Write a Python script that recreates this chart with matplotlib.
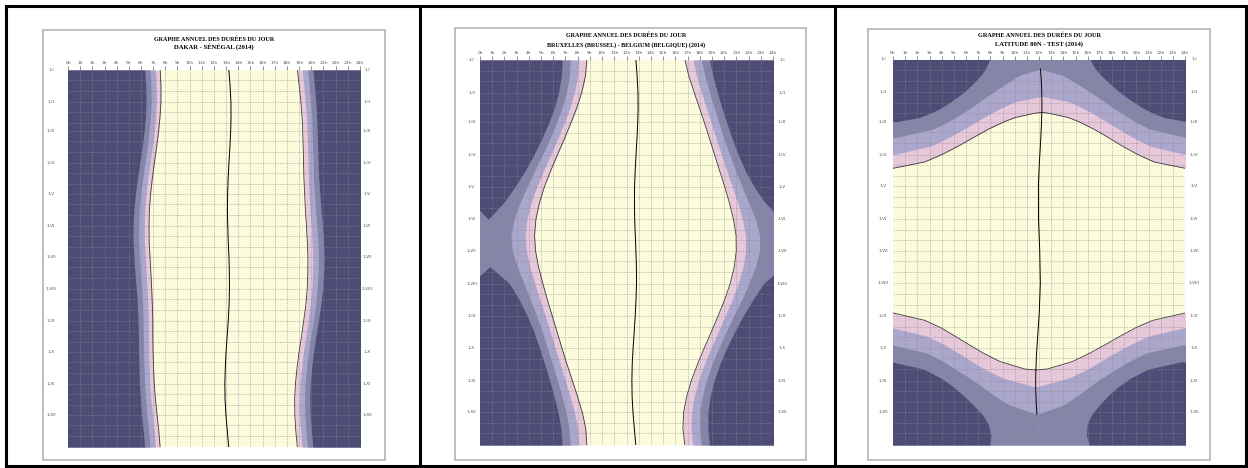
import numpy as np
import matplotlib.pyplot as plt
from matplotlib.lines import Line2D
from matplotlib.patches import Rectangle
from matplotlib.transforms import blended_transform_factory

# ---- data (hours, day of year 0 = 1 January 2014) ----
days = [0, 15, 31, 46, 59, 74, 90, 105, 120, 135, 151, 166, 181, 196,
        212, 227, 243, 258, 273, 288, 304, 319, 334, 349, 365]

# Dakar: solar noon and half-widths of day / civil / nautical / astronomical
dakar_noon = [13.22, 13.32, 13.39, 13.40, 13.37, 13.31, 13.23, 13.16, 13.12, 13.10, 13.13, 13.17, 13.23,
              13.26, 13.27, 13.24, 13.17, 13.08, 12.99, 12.93, 12.89, 12.91, 12.98, 13.09, 13.21]
dakar_sun = [5.64, 5.68, 5.75, 5.84, 5.92, 6.02, 6.13, 6.23, 6.33, 6.41, 6.47, 6.50, 6.49,
             6.45, 6.39, 6.31, 6.20, 6.11, 6.00, 5.90, 5.80, 5.72, 5.66, 5.63, 5.64]
dakar_civil = [6.02, 6.06, 6.12, 6.20, 6.28, 6.38, 6.49, 6.60, 6.70, 6.79, 6.86, 6.89, 6.88,
               6.84, 6.77, 6.68, 6.57, 6.46, 6.36, 6.26, 6.17, 6.10, 6.04, 6.02, 6.02]
dakar_naut = [6.47, 6.50, 6.55, 6.62, 6.70, 6.79, 6.91, 7.02, 7.14, 7.24, 7.32, 7.36, 7.35,
              7.30, 7.21, 7.11, 6.99, 6.88, 6.77, 6.68, 6.59, 6.53, 6.49, 6.46, 6.47]
dakar_astro = [6.91, 6.93, 6.98, 7.04, 7.11, 7.21, 7.33, 7.45, 7.58, 7.69, 7.79, 7.83, 7.82,
               7.76, 7.66, 7.54, 7.41, 7.29, 7.19, 7.10, 7.02, 6.96, 6.92, 6.91, 6.91]

# Bruxelles
brux_noon = [12.77, 12.87, 12.94, 12.95, 12.92, 12.86, 12.78, 12.71, 12.66, 12.65, 12.67, 12.72, 12.77,
             12.81, 12.82, 12.78, 12.71, 12.63, 12.54, 12.47, 12.44, 12.46, 12.53, 12.64, 12.76]
brux_sun = [4.02, 4.23, 4.61, 5.04, 5.45, 5.92, 6.44, 6.92, 7.38, 7.77, 8.09, 8.25, 8.22,
            8.02, 7.67, 7.27, 6.78, 6.31, 5.83, 5.36, 4.87, 4.47, 4.15, 3.98, 4.01]
brux_civil = [4.67, 4.86, 5.21, 5.61, 6.00, 6.47, 7.00, 7.50, 8.00, 8.45, 8.83, 9.02, 8.98,
              8.74, 8.33, 7.88, 7.35, 6.86, 6.38, 5.91, 5.45, 5.08, 4.79, 4.64, 4.66]
brux_naut = [5.37, 5.55, 5.87, 6.25, 6.63, 7.11, 7.67, 8.22, 8.80, 9.36, 9.89, 10.18, 10.12,
             9.75, 9.21, 8.66, 8.05, 7.52, 7.02, 6.55, 6.09, 5.75, 5.48, 5.35, 5.37]
brux_astro = [6.04, 6.20, 6.51, 6.88, 7.27, 7.77, 8.38, 9.02, 9.78, 10.68, 12, 12, 12,
              12, 10.40, 9.58, 8.82, 8.21, 7.67, 7.18, 6.73, 6.39, 6.14, 6.02, 6.03]

# Latitude 80N (more dates, the curves bend sharply)
days80 = [0, 9, 15, 23, 31, 35, 40, 46, 50, 51, 55, 59, 66, 74, 82, 90, 97, 103, 120, 151,
          181, 212, 240, 247, 254, 262, 270, 278, 286, 293, 294, 302, 310, 319, 327, 336, 345, 356, 365]
lat80_noon = [12.06, 12.12, 12.16, 12.20, 12.23, 12.23, 12.24, 12.24, 12.23, 12.23, 12.22, 12.21, 12.18,
              12.15, 12.11, 12.07, 12.03, 12.01, 11.95, 11.96, 12.06, 12.11, 12.02, 11.98, 11.94, 11.89,
              11.85, 11.80, 11.77, 11.75, 11.74, 11.73, 11.73, 11.75, 11.78, 11.83, 11.89, 11.98, 12.05]
lat80_sun = [0, 0, 0, 0, 0, 0, 0, 0, 0, 0.63, 2.20, 3.08, 4.34, 5.56, 6.74, 8.05, 9.42, 12, 12, 12,
             12, 12, 12, 9.36, 8.00, 6.78, 5.60, 4.38, 2.97, 0.94, 0, 0, 0, 0, 0, 0, 0, 0, 0]
lat80_civil = [0, 0, 0, 0, 0, 0, 2.23, 3.35, 4.02, 4.18, 4.78, 5.35, 6.38, 7.59, 9.02, 12, 12, 12, 12, 12,
               12, 12, 12, 12, 12, 9.08, 7.63, 6.41, 5.27, 4.25, 4.09, 2.62, 0, 0, 0, 0, 0, 0, 0]
lat80_naut = [0, 0, 1.77, 2.94, 3.99, 4.51, 5.15, 5.88, 6.43, 6.56, 7.12, 7.71, 8.94, 12, 12, 12, 12, 12, 12, 12,
              12, 12, 12, 12, 12, 12, 12, 8.99, 7.62, 6.62, 6.49, 5.39, 4.38, 3.32, 2.25, 0, 0, 0, 0]
lat80_astro = [4.12, 4.52, 4.95, 5.62, 6.41, 6.87, 7.49, 8.30, 8.99, 9.18, 10.11, 12, 12, 12, 12, 12, 12, 12, 12, 12,
               12, 12, 12, 12, 12, 12, 12, 12, 12, 9.27, 9.07, 7.74, 6.75, 5.88, 5.19, 4.50, 4.07, 3.92, 4.07]

month_start = [0, 31, 59, 90, 120, 151, 181, 212, 243, 273, 304, 334]
month_labels = ['1-I', '1-II', '1-III', '1-IV', '1-V', '1-VI', '1-VII', '1-VIII',
                '1-IX', '1-X', '1-XI', '1-XII']
hours = list(range(25))
hour_labels = [f'{h}h' for h in hours]
title_1 = 'GRAPHE ANNUEL DES DURÉES DU JOUR'

NIGHT = '#4d4c76'
ASTRO = '#8584a9'
NAUT = '#aba6cb'
CIVIL = '#e7c7da'
DAY = '#fcfcdd'
GRID = '#8a8a8a'

W, H = 1248, 468
fig = plt.figure(figsize=(W / 100, H / 100), dpi=100)


def fig_box(x0, y0, x1, y1):
    return [x0 / W, 1 - y1 / H, (x1 - x0) / W, (y1 - y0) / H]


def near(mask):
    # points inside a mask plus their direct neighbours, so lines reach the edge of the region
    return mask | np.r_[mask[1:], False] | np.r_[False, mask[:-1]]


def draw_panel(frame, plot, place, title_y, title_fs, hours_y, lab_x, d, noon, sun, civil, naut, astro):
    fig.add_artist(Rectangle((frame[0] / W, 1 - frame[3] / H), (frame[2] - frame[0]) / W,
                             (frame[3] - frame[1]) / H, transform=fig.transFigure,
                             fill=False, ec='#b4b4b4', lw=1.2))
    ax = fig.add_axes(fig_box(*plot))
    ax.set_facecolor(DAY)
    d = np.asarray(d, float)
    noon = np.asarray(noon, float)
    anti = noon + 12
    # darker bands are centred on midnight, drawn twice for the wrap at 0h/24h
    for hw, col in [(sun, CIVIL), (civil, NAUT), (naut, ASTRO), (astro, NIGHT)]:
        half = 12 - np.asarray(hw, float)
        for c in (anti, anti - 24):
            ax.fill_betweenx(d, c - half, c + half, color=col, lw=0)

    for h in range(1, 24):
        ax.axvline(h, color=GRID, lw=0.5, ls=(0, (2, 1.5)), alpha=0.7)
    for m in month_start:
        for k in (0, 10, 20):
            if m + k > 0:
                ax.axhline(m + k, color=GRID, lw=0.5, ls=(0, (2, 1.5)), alpha=0.7)

    # sunrise / sunset outline and solar noon
    sun = np.asarray(sun, float)
    hw_line = np.where(near((sun > 0) & (sun < 12)), sun, np.nan)
    ax.plot(noon - hw_line, d, color='#3a3a3a', lw=0.6)
    ax.plot(noon + hw_line, d, color='#3a3a3a', lw=0.6)
    noon_line = np.where(near(np.asarray(naut, float) > 0), noon, np.nan)
    ax.plot(noon_line, d, color='black', lw=0.7)

    ax.set_xlim(0, 24)
    ax.set_ylim(365, 0)
    ax.set_xticks(hours)
    ax.set_xticklabels([])
    ax.xaxis.tick_top()
    ax.tick_params(axis='x', length=3, width=0.5, color='#666666')
    ax.set_yticks([])
    for s in ax.spines.values():
        s.set_visible(False)

    cx = (plot[0] + plot[2]) / 2 / W
    fig.text(cx, 1 - title_y[0] / H, title_1, ha='center', va='center',
             fontsize=title_fs[0], fontweight='bold', family='Liberation Serif')
    fig.text(cx, 1 - title_y[1] / H, place, ha='center', va='center',
             fontsize=title_fs[1], fontweight='bold', family='Liberation Serif')
    tr = blended_transform_factory(ax.transData, fig.transFigure)
    for h, lab in zip(hours, hour_labels):
        ax.text(h, 1 - hours_y / H, lab, transform=tr, ha='center', va='center',
                fontsize=3.2, color='#555555')
    tr = blended_transform_factory(fig.transFigure, ax.transData)
    for m, lab in zip(month_start, month_labels):
        for lx in lab_x:
            ax.text(lx / W, m, lab, transform=tr, ha='center', va='center',
                    fontsize=3.2, color='#555555', clip_on=False)


draw_panel((43, 30, 385, 460), (68, 70, 360, 447), 'DAKAR - SÉNÉGAL (2014)',
           (39, 47), (4.4, 4.8), 62.5, (51, 367),
           days, dakar_noon, dakar_sun, dakar_civil, dakar_naut, dakar_astro)
draw_panel((455, 28, 806, 460), (480, 60, 773, 445), 'BRUXELLES (BRUSSEL) - BELGIUM (BELGIQUE) (2014)',
           (35.5, 45), (4.4, 4.3), 53.3, (471.5, 782),
           days, brux_noon, brux_sun, brux_civil, brux_naut, brux_astro)
draw_panel((868, 29, 1210, 460), (893, 59.5, 1185, 445), 'LATITUDE 80N - TEST (2014)',
           (35, 44), (4.5, 4.8), 52.7, (883, 1194),
           days80, lat80_noon, lat80_sun, lat80_civil, lat80_naut, lat80_astro)

# table borders around the three pictures
for xs, ys in [((6, 1246), (6, 6)), ((6, 1246), (466, 466)), ((6, 6), (6, 466)),
               ((420, 420), (6, 466)), ((835, 835), (6, 466)), ((1246, 1246), (6, 466))]:
    fig.add_artist(Line2D([x / W for x in xs], [1 - y / H for y in ys],
                          transform=fig.transFigure, color='black', lw=2.2))

fig.savefig('out.png', dpi=100)
